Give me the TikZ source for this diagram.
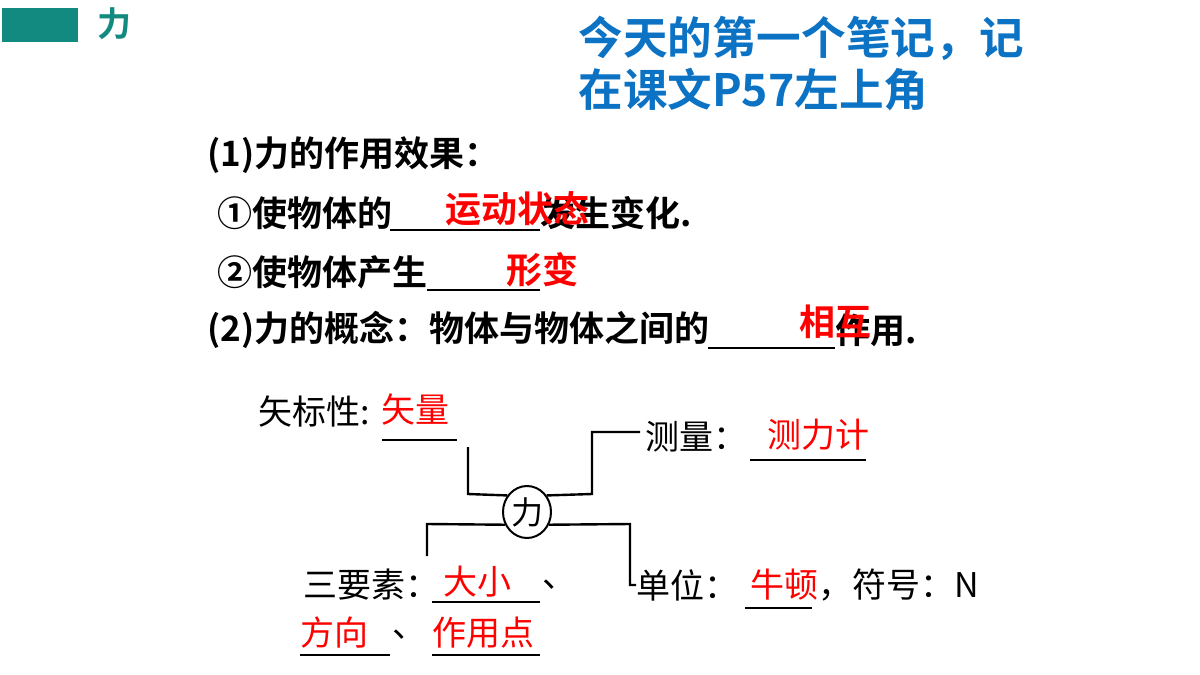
\documentclass[tikz,border=0pt]{standalone}
\usepackage{fontspec}
\newfontfamily\cjk{Noto Sans CJK SC}
\newfontfamily\cjkb{Noto Sans CJK SC Bold}
\usetikzlibrary{shapes.geometric}
\definecolor{teal1}{HTML}{138A80}
\definecolor{blue1}{HTML}{0B72C4}
\definecolor{red1}{HTML}{FF0000}
\tikzset{
 x=0.5pt,y=-0.5pt,
 hd/.style={anchor=west,inner sep=0,font=\cjkb\fontsize{17.5}{17.5}\selectfont},
 ans/.style={anchor=center,inner sep=0,text=red1,font=\cjkb\fontsize{18}{18}\selectfont},
 dg/.style={anchor=west,inner sep=0,font=\cjk\fontsize{17}{17}\selectfont},
 dgr/.style={dg,text=red1},
 ul/.style={line width=0.8pt},
 ln/.style={line width=1.2pt}
}
\begin{document}
\begin{tikzpicture}
\useasboundingbox (0,0) rectangle (1200,675);
\fill[teal1] (2,8) rectangle (78,42);
\node[anchor=west,inner sep=0,text=teal1,font=\cjkb\fontsize{17}{17}\selectfont] (t0) at (97,24) {力};
\node[anchor=west,inner sep=0,text=blue1,font=\cjkb\fontsize{22.3}{22.3}\selectfont] (t1) at (578,38) {今天的第一个笔记，记};
\node[anchor=west,inner sep=0,text=blue1,font=\cjkb\fontsize{22.3}{22.3}\selectfont] (t2) at (578,90) {在课文P57左上角};
% part 1
\node[hd] (a1) at (207,155) {(1)力的作用效果：};
\node[hd] (a2) at (217,213) {①使物体的};
\coordinate (u1a) at (390,230); \coordinate (u1b) at (540,230);
\draw[ul] (u1a) -- (u1b);
\node[hd] (a3) at (540,213) {发生变化.};
\node[ans] (r1) at (517,209) {运动状态};
\node[hd] (b1) at (217,272) {②使物体产生};
\coordinate (u2a) at (427,290); \coordinate (u2b) at (540,290);
\draw[ul] (u2a) -- (u2b);
\node[ans] (r2) at (542,270) {形变};
\node[hd] (c1) at (207,330) {(2)力的概念：物体与物体之间的};
\coordinate (u3a) at (708,348); \coordinate (u3b) at (835,348);
\draw[ul] (u3a) -- (u3b);
\node[hd] (c2) at (835,330) {作用.};
\node[ans] (r3) at (835,322) {相互};
% diagram
\node[draw,ellipse,line width=1pt,minimum width=24,minimum height=26,inner sep=0,font=\cjk\fontsize{16}{16}\selectfont] (li) at (527,512) {力};
\node[dg] (d1) at (258,412) {矢标性:};
\node[dgr] (d1r) at (381,410) {矢量};
\coordinate (v1) at (382,440); \coordinate (v2) at (457,440);
\draw[ul] (v1) -- (v2);
\coordinate (p1) at (468,447); \coordinate (p2) at (468,494);
\draw[ln] (p1) -- (p2) -- (li.140);
\coordinate (q1) at (592,494); \coordinate (q2) at (592,432); \coordinate (q3) at (640,432);
\draw[ln] (li.40) -- (q1) -- (q2) -- (q3);
\node[dg] (d2) at (645,437) {测量：};
\node[dgr] (d2r) at (767,435) {测力计};
\coordinate (w1) at (750,460); \coordinate (w2) at (866,460);
\draw[ul] (w1) -- (w2);
\coordinate (s1) at (427,556); \coordinate (s2) at (427,524);
\draw[ln] (s1) -- (s2) -- (li.-150);
\coordinate (k1) at (630,524); \coordinate (k2) at (630,585); \coordinate (k3) at (636,585);
\draw[ln] (li.-30) -- (k1) -- (k2) -- (k3);
\node[dg] (e1) at (303,585) {三要素：};
\node[dgr] (e1r) at (443,582) {大小};
\coordinate (x1) at (432,602); \coordinate (x2) at (540,602);
\draw[ul] (x1) -- (x2);
\node[dg] (e2) at (542,585) {、};
\node[dg] (f1) at (636,585) {单位：};
\node[dgr] (f1r) at (750,585) {牛顿};
\coordinate (y1) at (745,608); \coordinate (y2) at (812,608);
\draw[ul] (y1) -- (y2);
\node[dg] (f2) at (818,585) {，符号：N};
\node[dgr] (g1) at (300,633) {方向};
\coordinate (z1) at (300,655); \coordinate (z2) at (390,655);
\draw[ul] (z1) -- (z2);
\node[dg] (g2) at (392,635) {、};
\node[dgr] (g3) at (432,633) {作用点};
\coordinate (z3) at (432,655); \coordinate (z4) at (540,655);
\draw[ul] (z3) -- (z4);
\end{tikzpicture}
\end{document}
